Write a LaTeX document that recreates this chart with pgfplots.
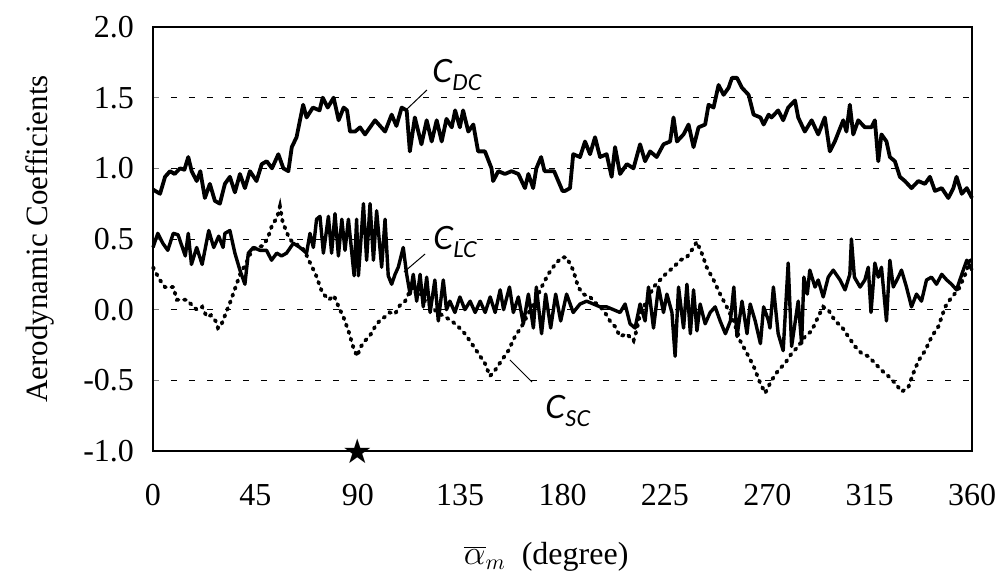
\documentclass[border=0pt]{standalone}
\usepackage{pgfplots}
\pgfplotsset{compat=1.18}
\usepackage{fontspec}
\setmainfont{Liberation Serif}
\newfontfamily\lblfont{Lato}
\newfontfamily\symfont{DejaVu Sans}
\newcommand{\coef}[1]{{\lblfont\itshape\fontsize{16}{19}\selectfont C\raisebox{-4pt}{\fontsize{11}{13}\selectfont #1}}}
\begin{document}
\begin{tikzpicture}
\useasboundingbox (-76.5pt,-66.5pt) rectangle (423pt,225.5pt);
\begin{axis}[
  at={(0,0)}, anchor=south west,
  width=409.5pt, height=212pt, scale only axis,
  xmin=0, xmax=360, ymin=-1, ymax=2,
  xtick={0,45,...,360}, ytick={-1,-0.5,...,2},
  ymajorgrids,
  grid style={black, line width=0.45pt, dash pattern=on 3pt off 6pt},
  axis line style={line width=1.1pt},
  tick pos=left,
  xtick style={draw=none},
  ytick style={line width=0.6pt},
  major tick length=3pt,
  /pgf/number format/assume math mode=true,
  yticklabel style={/pgf/number format/.cd, fixed, fixed zerofill, precision=1, /tikz/.cd, font=\fontsize{16}{18}\selectfont, xshift=-6pt},
  xticklabel style={font=\fontsize{16}{18}\selectfont, yshift=-13pt},
  ylabel={Aerodynamic Coefficients},
  ylabel style={font=\fontsize{15.5}{18}\selectfont, at={(axis description cs:-0.138,0.5)}, anchor=center},
  xlabel={$\overline{\alpha}_{m}$\ \ (degree)},
  xlabel style={font=\fontsize{16}{18}\selectfont, at={(axis description cs:0.48,-0.25)}, anchor=center},
  clip=false,
]
% C_DC
\addplot[black, line width=1.9pt, line join=round] coordinates {
(0,0.85)(3.1,0.82)(5.3,0.94)(7.5,0.98)(9.5,0.96)(11.9,1.0)(13.8,0.99)(15.5,1.08)(17,0.98)(19.2,0.91)(20.8,0.98)(22.8,0.79)(25,0.89)(27.2,0.77)(29.4,0.75)(31.6,0.89)(33.8,0.94)(36,0.83)(38.2,0.96)(40.4,0.86)(42.6,0.98)(45.5,0.91)(47.8,1.03)(50,1.05)(52.3,1.0)(55.1,1.1)(57.3,1.0)(59.5,0.98)(61,1.15)(63.1,1.22)(64.6,1.34)(66,1.45)(67.5,1.36)(70.3,1.43)(73.2,1.41)(74.6,1.5)(76.8,1.43)(79.4,1.5)(81.6,1.34)(83.8,1.43)(85.3,1.41)(86.6,1.26)(88.8,1.26)(91,1.29)(93.2,1.24)(97.6,1.34)(102,1.26)(104.9,1.38)(107,1.30)(109.3,1.43)(111.5,1.41)(112.9,1.12)(115.1,1.36)(118,1.17)(120.3,1.34)(122.5,1.19)(124.7,1.34)(126.9,1.19)(129,1.35)(131.3,1.29)(132.8,1.41)(134.9,1.29)(136.3,1.41)(138.6,1.26)(140.8,1.31)(142.9,1.12)(145.9,1.12)(148.8,1.0)(149.5,0.91)(151.8,0.98)(154.7,0.96)(157.6,0.98)(160.6,0.96)(163.5,0.86)(165,0.96)(167.1,0.86)(168.5,1.0)(170.6,1.08)(172.1,0.98)(176.3,0.98)(180,0.84)(181.1,0.84)(183.3,0.86)(184.7,1.1)(187.7,1.08)(189.9,1.19)(192.1,1.1)(194.3,1.22)(196.5,1.08)(199.4,1.1)(201.6,0.94)(203.1,1.15)(205.3,0.96)(208.3,1.03)(211.2,1.0)(214.1,1.17)(216.3,1.05)(218.5,1.12)(221.4,1.08)(224.4,1.17)(227.3,1.19)(228.8,1.36)(230.3,1.19)(233.2,1.24)(235.4,1.31)(237.6,1.15)(239.8,1.29)(242.7,1.31)(244.2,1.45)(246.4,1.43)(248.6,1.59)(250.8,1.52)(253,1.57)(254.5,1.64)(256.7,1.64)(258.9,1.57)(261.8,1.52)(264,1.38)(267,1.36)(268.4,1.31)(270.6,1.38)(271.9,1.36)(274.8,1.41)(277,1.34)(279.2,1.43)(282.2,1.48)(283.6,1.36)(286.5,1.26)(289.5,1.34)(292.4,1.24)(295.3,1.36)(297.5,1.12)(299.7,1.19)(303.4,1.34)(304.8,1.26)(306.3,1.45)(307.8,1.24)(310,1.34)(312.9,1.29)(315.8,1.29)(317.3,1.34)(318.8,1.05)(320.2,1.24)(322.4,1.19)(323.9,1.08)(326.1,1.05)(328.3,0.94)(330.5,0.91)(333.4,0.86)(336.4,0.91)(339.3,0.89)(341.5,0.94)(343.7,0.84)(346.7,0.86)(349.6,0.79)(351.8,0.86)(353.2,0.94)(355.5,0.82)(357.7,0.86)(360,0.79)
};
% C_LC
\addplot[black, line width=1.7pt, line join=round] coordinates {
(0,0.44)(2.1,0.54)(4.3,0.47)(6.5,0.42)(8.9,0.54)(11,0.53)(14.2,0.38)(15.5,0.54)(16.9,0.32)(19.2,0.44)(21.6,0.32)(24.5,0.56)(26.7,0.44)(28.9,0.52)(30.8,0.44)(31.6,0.54)(33.8,0.56)(36,0.40)(38.2,0.28)(40.4,0.18)(41.9,0.40)(44.1,0.44)(47,0.42)(49.9,0.42)(52.1,0.35)(54.4,0.40)(56.5,0.38)(58.7,0.40)(61.7,0.47)(64.6,0.44)(67.5,0.40)(69,0.54)(70.5,0.44)(71.9,0.64)(73.4,0.66)(74.9,0.40)(77.1,0.66)(78.5,0.40)(80,0.68)(81.5,0.38)(83,0.64)(84.4,0.42)(85.9,0.64)(87.4,0.40)(88.4,0.24)(89.5,0.64)(90.3,0.24)(92.5,0.75)(93.9,0.35)(95.4,0.75)(96.9,0.35)(98.3,0.70)(100.5,0.30)(102,0.64)(103.4,0.24)(104.9,0.18)(106.4,0.25)(107.8,0.30)(110,0.44)(111.5,0.25)(113,0.11)(114.4,0.25)(115.9,0.06)(117.4,0.25)(118.8,0.02)(120.3,0.23)(121.8,-0.02)(123.9,0.21)(125.4,-0.08)(127.6,0.21)(129,0)(130.5,0.06)(132.7,-0.02)(134.9,0.09)(137.1,0)(139.4,0.06)(141.6,-0.02)(143.8,0.06)(146,-0.02)(148.2,0.09)(150.4,-0.02)(152.6,0.14)(154.1,0)(156.7,0.16)(158.4,-0.02)(160.6,0.09)(162.8,-0.10)(165,0.11)(167.2,-0.13)(168.5,0.16)(170.8,-0.17)(172.6,0.11)(174.8,-0.13)(177,0.11)(179.2,-0.08)(181.8,0.11)(184.7,-0.02)(187.7,0.04)(190.6,0.06)(193.6,0.04)(196.5,0.02)(199.4,0.02)(202.4,0)(205.3,-0.02)(207.5,0.04)(209.7,-0.10)(211.9,-0.13)(214.1,0.04)(216.3,-0.08)(217.8,0.16)(220,-0.13)(222.2,0.16)(224.4,-0.02)(225.9,0.11)(228.1,-0.02)(229.5,-0.33)(231,0.16)(233.2,-0.13)(234.7,0.18)(236.2,-0.17)(237.6,0.14)(239.1,-0.15)(240.5,0.04)(242.7,-0.10)(244.9,-0.02)(247.1,0.02)(249.3,-0.08)(251.6,-0.17)(253.8,-0.08)(255.3,0.16)(256.7,-0.19)(258.9,0.06)(261.1,-0.17)(262.5,0.04)(264.7,-0.08)(267,-0.24)(268.4,0.02)(270.6,-0.08)(271.2,-0.13)(272.7,0.16)(274.8,-0.17)(277,-0.29)(279.2,0.33)(280.7,-0.26)(283.6,0.06)(285.1,-0.24)(286.1,0.23)(287.6,0.11)(288.7,0.28)(291,0.16)(292.4,0.21)(294.6,0.09)(296.8,0.23)(299,0.28)(302,0.21)(304.2,0.14)(306.3,0.25)(307,0.50)(308.3,0.23)(310.8,0.16)(312.9,0.21)(314.4,0.30)(315.6,-0.02)(317.3,0.33)(318.8,0.23)(320.2,0.30)(322.4,-0.08)(323.9,0.35)(325.4,0.16)(327.6,0.23)(329,0.28)(331.2,0.16)(333.4,0.02)(335.6,0.11)(337.8,0.06)(340,0.21)(342.2,0.23)(344.4,0.18)(346.7,0.25)(348.9,0.21)(351,0.18)(353.2,0.14)(355.5,0.25)(357.7,0.35)(360,0.28)
};
% C_SC
\addplot[black, line width=1.9pt, line cap=round, dash pattern=on 0.9pt off 2.8pt] coordinates {
(0,0.30)(3,0.21)(5.3,0.16)(8.9,0.16)(10.5,0.07)(14.9,0.07)(17.8,0.02)(19.3,0.0)(21.6,0.02)(23.6,-0.05)(25.5,-0.04)(27.5,-0.08)(28.6,-0.13)(29.7,-0.12)(31.9,-0.03)(34.1,0.06)(36.3,0.16)(38.5,0.26)(40.7,0.32)(42.9,0.40)(45,0.44)(48,0.45)(50.3,0.50)(52.4,0.60)(54.5,0.65)(55.8,0.73)(57,0.62)(58.5,0.56)(60,0.50)(62,0.47)(64.5,0.45)(66.5,0.42)(68.5,0.35)(71.5,0.25)(74.4,0.12)(77.3,0.07)(79.5,0.10)(81.6,0.02)(83.9,-0.06)(86.1,-0.16)(88.3,-0.28)(89.8,-0.33)(91,-0.27)(93.2,-0.22)(95.5,-0.18)(97.6,-0.12)(100,-0.07)(102,-0.05)(104,-0.02)(106.4,-0.03)(108.5,0.03)(110.8,0.06)(112.6,0.12)(114.4,0.16)(116,0.10)(118,0.11)(120,0.05)(122.5,0.02)(125,-0.02)(128.3,-0.05)(131.3,-0.08)(134.2,-0.12)(137.1,-0.17)(140.1,-0.24)(143,-0.31)(145.9,-0.38)(148.1,-0.47)(150.3,-0.43)(153.2,-0.36)(156.2,-0.29)(159.1,-0.19)(162,-0.12)(164.9,-0.03)(167.9,0.06)(170.8,0.16)(173.7,0.25)(176.7,0.32)(179.6,0.37)(181.8,0.37)(184.7,0.28)(186.9,0.16)(189.1,0.11)(192.1,0.09)(195,0.04)(197.9,0)(200.9,-0.08)(203.1,-0.12)(205.3,-0.19)(208.2,-0.17)(211.2,-0.22)(212.5,-0.15)(214.1,-0.03)(217,0.06)(220,0.16)(222.9,0.21)(225.8,0.26)(228.8,0.30)(231.7,0.35)(234.6,0.37)(237.6,0.44)(239,0.48)(241.2,0.40)(243.4,0.30)(246.4,0.21)(249.3,0.11)(252.2,0.02)(255.2,-0.08)(258.1,-0.22)(261.1,-0.31)(264,-0.40)(266.9,-0.52)(269.1,-0.59)(271.9,-0.50)(274.8,-0.43)(277.8,-0.38)(280.7,-0.31)(283.6,-0.26)(286.6,-0.19)(289.5,-0.15)(292.4,-0.05)(294.6,0.02)(296.8,0)(299.8,-0.08)(302.7,-0.12)(305.6,-0.19)(308.6,-0.26)(311.5,-0.31)(314.4,-0.33)(317.4,-0.38)(320.3,-0.43)(323.2,-0.47)(326.2,-0.52)(329.1,-0.58)(332,-0.55)(334.2,-0.45)(336.5,-0.36)(339.4,-0.29)(342.3,-0.19)(345.2,-0.12)(348.2,0.02)(351.1,0.09)(354,0.14)(357,0.25)(359.2,0.35)
};
% star marker
\addplot[only marks, mark=text, text mark={\symfont\fontsize{17}{17}\selectfont ★}] coordinates {(90,-1)};
% labels
\node[anchor=west, inner sep=0pt] at (axis cs:122.6,1.66) {\coef{DC}};
\node[anchor=west, inner sep=0pt] at (axis cs:123.1,0.48) {\coef{LC}};
\node[anchor=west, inner sep=0pt] at (axis cs:172.3,-0.72) {\coef{SC}};
\draw[black, line width=0.5pt] (axis cs:120.4,1.554) -- (axis cs:111.2,1.413);
\draw[black, line width=0.5pt] (axis cs:119.6,0.394) -- (axis cs:110.3,0.266);
\draw[black, line width=0.5pt] (axis cs:156.9,-0.356) -- (axis cs:166.6,-0.512);
\end{axis}
\end{tikzpicture}
\end{document}
